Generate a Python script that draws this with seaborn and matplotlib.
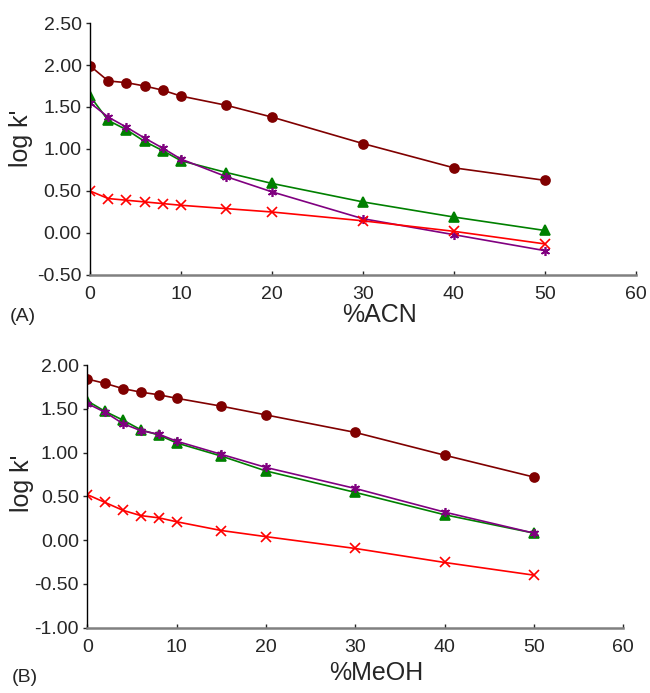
import pandas as pd
import seaborn as sns
import matplotlib.pyplot as plt

# % organic modifier
pct = [0, 2, 4, 6, 8, 10, 15, 20, 30, 40, 50]

# (A) acetonitrile
acn_circle = [1.99, 1.81, 1.79, 1.75, 1.70, 1.63, 1.52, 1.38, 1.065, 0.776, 0.627]
acn_triangle = [1.63, 1.34, 1.23, 1.09, 0.98, 0.86, 0.72, 0.59, 0.37, 0.19, 0.03]
acn_star = [1.55, 1.38, 1.26, 1.13, 1.01, 0.88, 0.67, 0.49, 0.17, -0.02, -0.21]
acn_cross = [0.50, 0.41, 0.39, 0.37, 0.35, 0.33, 0.29, 0.25, 0.145, 0.02, -0.13]

# (B) methanol
meoh_circle = [1.84, 1.79, 1.73, 1.69, 1.66, 1.62, 1.53, 1.43, 1.23, 0.97, 0.72]
meoh_triangle = [1.59, 1.47, 1.37, 1.26, 1.20, 1.11, 0.96, 0.79, 0.545, 0.29, 0.08]
meoh_star = [1.56, 1.46, 1.33, 1.25, 1.21, 1.13, 0.98, 0.83, 0.59, 0.32, 0.08]
meoh_cross = [0.52, 0.43, 0.34, 0.28, 0.255, 0.21, 0.11, 0.04, -0.095, -0.255, -0.40]

series = ["circle", "triangle", "star", "cross"]
colors = {"circle": "#800000", "triangle": "#008000", "star": "#800080", "cross": "#ff0000"}
markers = {"circle": "o", "triangle": "^", "star": (6, 2, 0), "cross": "x"}


def long_df(vals):
    rows = []
    for name, v in zip(series, vals):
        for x, y in zip(pct, v):
            rows.append({"pct": x, "logk": y, "series": name})
    return pd.DataFrame(rows)


df_a = long_df([acn_circle, acn_triangle, acn_star, acn_cross])
df_b = long_df([meoh_circle, meoh_triangle, meoh_star, meoh_cross])

sns.set_style("white")
plt.rcParams["font.family"] = ["Liberation Sans", "DejaVu Sans"]

fig = plt.figure(figsize=(6.5, 6.93), dpi=100)
ax1 = fig.add_axes([0.1385, 0.6032, 0.8395, 0.3636])
ax2 = fig.add_axes([0.1343, 0.0942, 0.8247, 0.3791])


def draw(ax, df, ylim, yticks, xlabel, tag, xlab_pos, ylab_pos, tag_pos):
    for name in series:
        sub = df[df["series"] == name]
        sns.lineplot(data=sub, x="pct", y="logk", ax=ax, color=colors[name],
                     marker=markers[name], markersize=6.5, markeredgecolor=colors[name],
                     markeredgewidth=1.2, linewidth=1.2, legend=False)
    ax.set_xlim(0, 60)
    ax.set_ylim(*ylim)
    ax.set_xticks([0, 10, 20, 30, 40, 50, 60])
    ax.set_yticks(yticks)
    ax.set_yticklabels([f"{t:.2f}" for t in yticks])
    ax.set_xlabel(xlabel, fontsize=18)
    ax.set_ylabel("log k'", fontsize=18)
    ax.xaxis.set_label_coords(*xlab_pos)
    ax.yaxis.set_label_coords(*ylab_pos)
    for s in ["top", "right"]:
        ax.spines[s].set_visible(False)
    ax.spines["left"].set_color("black")
    ax.spines["left"].set_linewidth(1.0)
    ax.spines["bottom"].set_color("#808080")
    ax.spines["bottom"].set_linewidth(1.8)
    ax.tick_params(axis="y", direction="out", length=3, width=1, left=True, labelsize=14, pad=3)
    ax.tick_params(axis="x", direction="in", length=3, width=1, bottom=True, labelsize=14, pad=8)
    ax.text(tag_pos[0], tag_pos[1], tag, transform=ax.transAxes, fontsize=14, va="center")


draw(ax1, df_a, (-0.5, 2.5), [-0.5, 0.0, 0.5, 1.0, 1.5, 2.0, 2.5], "%ACN", "(A)",
     (0.531, -0.11), (-0.104, 0.544), (-0.147, -0.163))
draw(ax2, df_b, (-1.0, 2.0), [-1.0, -0.5, 0.0, 0.5, 1.0, 1.5, 2.0], "%MeOH", "(B)",
     (0.539, -0.125), (-0.10, 0.551), (-0.14, -0.191))

fig.savefig("out.png", dpi=100)
